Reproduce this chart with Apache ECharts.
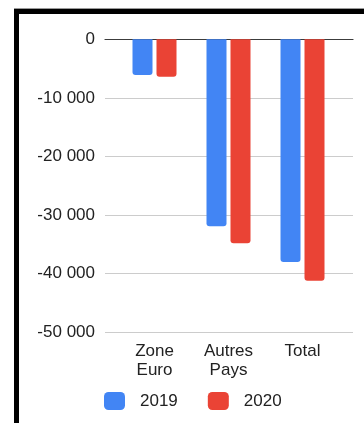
<!DOCTYPE html>
<html>
<head>
<meta charset="utf-8">
<script src="https://cdn.jsdelivr.net/npm/echarts@6/dist/echarts.min.js"></script>
<style>
  html, body { margin: 0; padding: 0; background: #fff; }
  #chart { width: 364px; height: 423px; }
</style>
</head>
<body>
<div id="chart"></div>
<script>
// Balance by region, two years
const categories = ['Zone\nEuro', 'Autres\nPays', 'Total'];
const years = ['2019', '2020'];
const values2019 = [-6100, -31900, -38000];
const values2020 = [-6400, -34800, -41200];
const yTicks = { min: -50000, max: 0, step: 10000 };

const FONT = '"Liberation Sans", Arial, sans-serif';
const BLUE = '#4285F4';
const RED = '#EA4335';

// "-10000" -> "-10 000"
function spaced(v) {
  const s = String(Math.abs(v)).replace(/\B(?=(\d{3})+(?!\d))/g, ' ');
  return (v < 0 ? '-' : '') + s;
}

const chart = echarts.init(document.getElementById('chart'), null, { renderer: 'canvas' });

const plotTop = 39.3;
const plotHeight = 293;

chart.setOption({
  animation: false,
  textStyle: { fontFamily: FONT },
  graphic: [
    { type: 'rect', shape: { x: 14, y: 8, width: 350, height: 1 }, style: { fill: '#9a9a9a' }, silent: true },
    { type: 'rect', shape: { x: 14, y: 9, width: 350, height: 5 }, style: { fill: '#000' }, silent: true },
    { type: 'rect', shape: { x: 14, y: 9, width: 5, height: 414 }, style: { fill: '#000' }, silent: true }
  ],
  grid: [
    // value grid carrying the horizontal rules and tick labels
    { left: 105, width: 248, top: plotTop, height: plotHeight, containLabel: false },
    // narrower category grid carrying the bars
    { left: 117.5, width: 222, top: plotTop, height: plotHeight, containLabel: false }
  ],
  xAxis: [
    {
      gridIndex: 0, type: 'category', data: ['', '', ''],
      axisLine: { show: true, onZero: true, lineStyle: { color: '#3c3c3c', width: 1.2 } },
      axisTick: { show: false }, axisLabel: { show: false }, splitLine: { show: false }
    },
    {
      gridIndex: 1, type: 'category', data: categories,
      axisLine: { show: false, onZero: false }, axisTick: { show: false },
      axisLabel: {
        margin: 10, color: '#222', fontSize: 17, lineHeight: 19, fontFamily: FONT,
        interval: 0, align: 'center'
      }
    }
  ],
  yAxis: [
    {
      gridIndex: 0, type: 'value', min: yTicks.min, max: yTicks.max, interval: yTicks.step,
      axisLine: { show: false }, axisTick: { show: false },
      axisLabel: { margin: 10, color: '#222', fontSize: 17, fontFamily: FONT, formatter: spaced },
      splitLine: { lineStyle: { color: '#cccccc', width: 1 } }
    },
    {
      gridIndex: 1, type: 'value', min: yTicks.min, max: yTicks.max, interval: yTicks.step,
      show: false, splitLine: { show: false }
    }
  ],
  legend: {
    left: 99, top: 387,
    itemWidth: 21, itemHeight: 18, itemGap: 30,
    icon: 'roundRect',
    data: years,
    textStyle: { color: '#222', fontSize: 17, fontFamily: FONT, padding: [0, 0, 0, 10], lineHeight: 18 }
  },
  series: [
    {
      name: years[0], type: 'bar', xAxisIndex: 1, yAxisIndex: 1,
      data: values2019, barWidth: 20, barGap: '20%',
      itemStyle: { color: BLUE, borderRadius: [0, 0, 3, 3] }
    },
    {
      name: years[1], type: 'bar', xAxisIndex: 1, yAxisIndex: 1,
      data: values2020, barWidth: 20, barGap: '20%',
      itemStyle: { color: RED, borderRadius: [0, 0, 3, 3] }
    }
  ]
});
</script>
</body>
</html>
